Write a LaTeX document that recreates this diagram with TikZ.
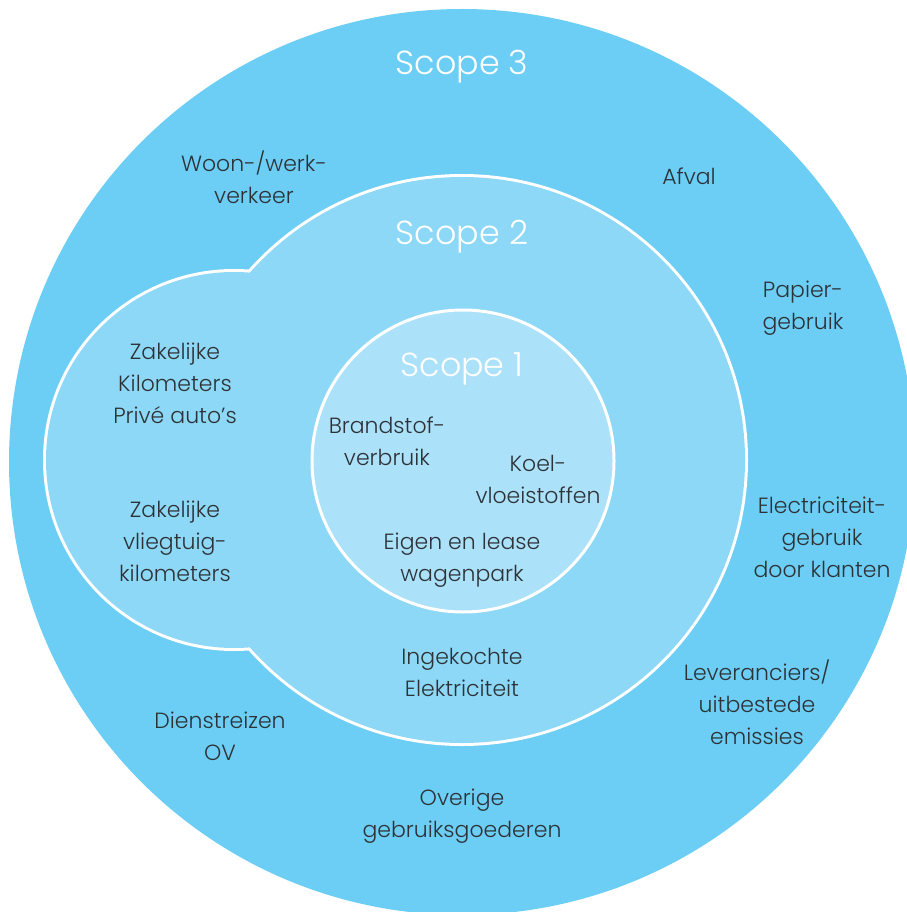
\documentclass[tikz,border=0pt]{standalone}
\usepackage{fontspec}
\setmainfont{Poppins}[UprightFont={* Light}]
\definecolor{cthree}{RGB}{108,206,245}
\definecolor{ctwo}{RGB}{141,216,246}
\definecolor{cone}{RGB}{172,225,250}
\definecolor{txt}{RGB}{45,50,55}
\begin{document}
\begin{tikzpicture}[x=0.75pt,y=-0.75pt,
  lbl/.style={text=txt, align=center, inner sep=0pt, font=\fontsize{16.5}{24}\selectfont},
  scopelbl/.style={text=white, inner sep=0pt, font=\fontsize{25}{30}\selectfont},
  ring/.style={line width=4.5pt, draw=white}]
\useasboundingbox (0,0) rectangle (906,912);
% scope 3
\fill[cthree] (462,462) circle[radius=453];
% scope 2 (union of two circles, white outline on outer contour)
\draw[ring] (462,460) circle[radius=283];
\draw[ring] (234,460) circle[radius=188];
\fill[ctwo] (462,460) circle[radius=283];
\fill[ctwo] (234,460) circle[radius=188];
% scope 1
\filldraw[fill=cone, draw=white, line width=2.25pt] (463,461) circle[radius=151];
% labels
\node[scopelbl] (s3) at (462,67) {Scope 3};
\node[scopelbl] (s2) at (462,237) {Scope 2};
\node[scopelbl] (s1) at (462,369) {Scope 1};
\node[lbl] (woon) at (254,177) {Woon-/werk-\\verkeer};
\node[lbl] (afval) at (689,176) {Afval};
\node[lbl] (papier) at (803,308) {Papier-\\gebruik};
\node[lbl] (zak1) at (175,383) {Zakelijke\\Kilometers\\Privé auto’s};
\node[lbl] (zak2) at (175,541) {Zakelijke\\vliegtuig-\\kilometers};
\node[lbl] (brand) at (387,441) {Brandstof-\\verbruik};
\node[lbl] (koel) at (538,479) {Koel-\\vloeistoffen};
\node[lbl] (eigen) at (462,560) {Eigen en lease\\wagenpark};
\node[lbl] (inge) at (462,672) {Ingekochte\\Elektriciteit};
\node[lbl] (elec) at (822,537) {Electriciteit-\\gebruik\\door klanten};
\node[lbl] (lev) at (757,702) {Leveranciers/\\uitbestede\\emissies};
\node[lbl] (dien) at (220,736) {Dienstreizen\\OV};
\node[lbl] (over) at (462,816) {Overige\\gebruiksgoederen};
\end{tikzpicture}
\end{document}
